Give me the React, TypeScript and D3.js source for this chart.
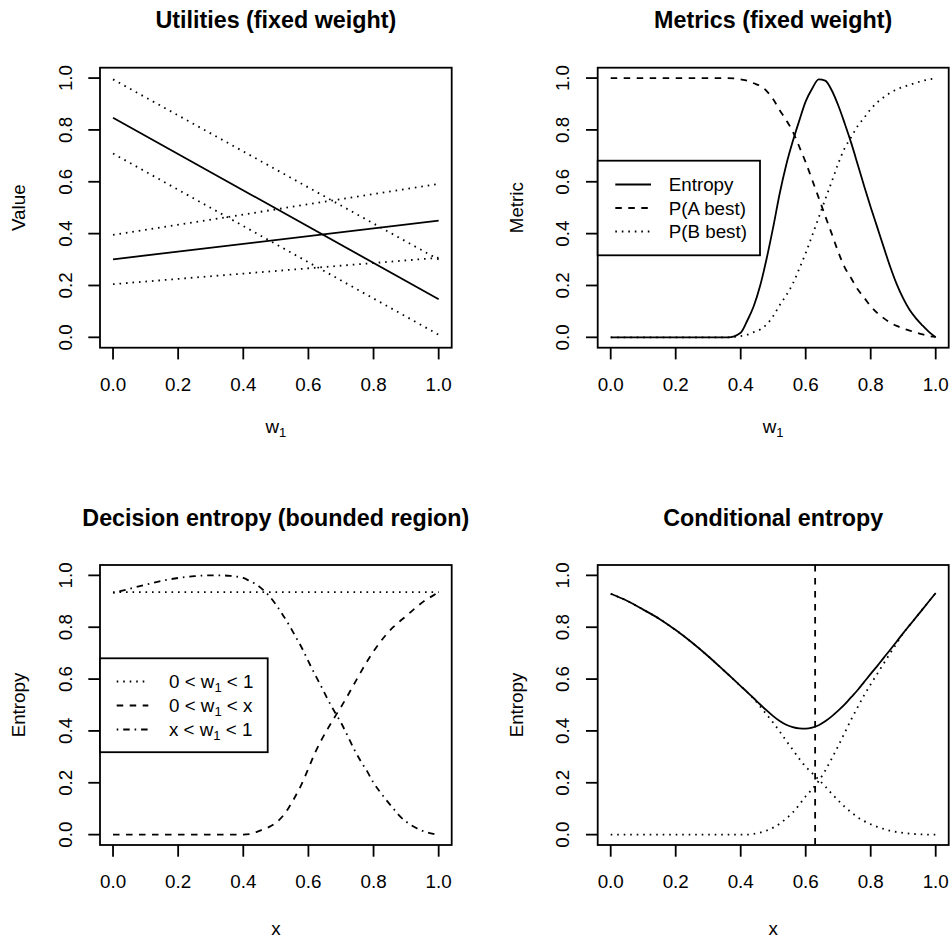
import React from "react";
import * as d3 from "d3";

// ---------- DATA ----------
const ticks = [0, 0.2, 0.4, 0.6, 0.8, 1.0];
const tickLabels = ["0.0", "0.2", "0.4", "0.6", "0.8", "1.0"];

// Panel 1: utilities (straight lines at w1 = 0 and 1)
const utilX = [0, 1];
const utilA = [0.847, 0.147];
const utilAUpper = [0.995, 0.3];
const utilALower = [0.709, 0.01];
const utilB = [0.301, 0.45];
const utilBUpper = [0.395, 0.592];
const utilBLower = [0.205, 0.307];

// Panel 2: metrics
const metricX = [0, 0.1, 0.2, 0.3, 0.36, 0.4, 0.42, 0.44, 0.46, 0.48, 0.5, 0.52, 0.54, 0.56, 0.58, 0.6, 0.62, 0.64, 0.66, 0.68, 0.7, 0.72, 0.74, 0.76, 0.78, 0.8, 0.82, 0.84, 0.86, 0.88, 0.9, 0.92, 0.94, 0.96, 0.98, 1.0];
const metricEntropy = [0, 0, 0, 0, 0, 0.018, 0.064, 0.12, 0.2, 0.305, 0.425, 0.555, 0.665, 0.755, 0.835, 0.91, 0.96, 0.995, 0.99, 0.953, 0.895, 0.825, 0.75, 0.667, 0.583, 0.502, 0.425, 0.348, 0.272, 0.205, 0.15, 0.105, 0.072, 0.045, 0.02, 0.0];
const metricPA = [1, 1, 1, 1, 1, 0.995, 0.99, 0.98, 0.97, 0.95, 0.918, 0.876, 0.838, 0.794, 0.736, 0.675, 0.607, 0.538, 0.468, 0.4, 0.33, 0.27, 0.228, 0.185, 0.153, 0.12, 0.094, 0.074, 0.057, 0.044, 0.034, 0.026, 0.018, 0.011, 0.005, 0.002];
const metricPB = [0, 0, 0, 0, 0, 0.005, 0.01, 0.02, 0.03, 0.05, 0.082, 0.124, 0.162, 0.206, 0.264, 0.325, 0.393, 0.462, 0.532, 0.6, 0.67, 0.73, 0.772, 0.815, 0.847, 0.88, 0.906, 0.926, 0.943, 0.956, 0.966, 0.974, 0.982, 0.989, 0.995, 0.998];

// Panel 3: decision entropy (bounded region)
const boundX = [0, 0.05, 0.1, 0.15, 0.2, 0.25, 0.3, 0.33, 0.36, 0.4, 0.42, 0.44, 0.46, 0.48, 0.5, 0.52, 0.54, 0.56, 0.58, 0.6, 0.62, 0.64, 0.66, 0.68, 0.7, 0.72, 0.74, 0.76, 0.78, 0.8, 0.82, 0.84, 0.86, 0.88, 0.9, 0.92, 0.94, 0.96, 0.98, 1.0];
const boundFull = boundX.map(() => 0.935);
const boundLower = [0, 0, 0, 0, 0, 0, 0, 0, 0, 0, 0.002, 0.01, 0.02, 0.03, 0.045, 0.07, 0.105, 0.148, 0.197, 0.255, 0.315, 0.365, 0.41, 0.452, 0.492, 0.535, 0.58, 0.625, 0.668, 0.707, 0.742, 0.773, 0.8, 0.822, 0.843, 0.865, 0.886, 0.905, 0.92, 0.935];
const boundUpper = [0.932, 0.948, 0.964, 0.979, 0.99, 0.997, 1.0, 1.0, 0.998, 0.99, 0.978, 0.965, 0.945, 0.92, 0.888, 0.85, 0.81, 0.765, 0.72, 0.668, 0.618, 0.57, 0.52, 0.475, 0.432, 0.382, 0.33, 0.285, 0.245, 0.2, 0.165, 0.132, 0.102, 0.072, 0.05, 0.033, 0.02, 0.01, 0.004, 0.0];

// Panel 4: conditional entropy
const condX = [0, 0.05, 0.1, 0.15, 0.2, 0.25, 0.3, 0.35, 0.4, 0.42, 0.44, 0.46, 0.48, 0.5, 0.52, 0.54, 0.56, 0.58, 0.6, 0.62, 0.64, 0.66, 0.68, 0.7, 0.72, 0.74, 0.76, 0.78, 0.8, 0.82, 0.84, 0.86, 0.88, 0.9, 0.92, 0.94, 0.96, 0.98, 1.0];
const condTotal = [0.929, 0.902, 0.868, 0.832, 0.789, 0.741, 0.688, 0.631, 0.573, 0.55, 0.526, 0.502, 0.479, 0.457, 0.438, 0.424, 0.415, 0.41, 0.409, 0.413, 0.422, 0.437, 0.456, 0.478, 0.502, 0.53, 0.558, 0.589, 0.62, 0.65, 0.682, 0.713, 0.745, 0.777, 0.808, 0.839, 0.87, 0.901, 0.932];
const condBelow = [0.929, 0.902, 0.868, 0.832, 0.789, 0.741, 0.688, 0.631, 0.573, 0.55, 0.524, 0.494, 0.463, 0.432, 0.398, 0.362, 0.328, 0.293, 0.262, 0.237, 0.212, 0.186, 0.158, 0.132, 0.107, 0.086, 0.067, 0.052, 0.04, 0.03, 0.022, 0.015, 0.01, 0.007, 0.004, 0.002, 0.001, 0, 0];
const condAbove = [0, 0, 0, 0, 0, 0, 0, 0, 0, 0, 0.003, 0.008, 0.016, 0.027, 0.042, 0.062, 0.085, 0.115, 0.148, 0.175, 0.207, 0.247, 0.293, 0.342, 0.393, 0.444, 0.492, 0.538, 0.58, 0.62, 0.66, 0.7, 0.738, 0.777, 0.808, 0.839, 0.87, 0.901, 0.932];
const condSplit = 0.629;

// ---------- STYLE ----------
const FONT = "'Liberation Sans', Arial, Helvetica, sans-serif";
const FS = 18.8;
const TFS = 23.3;
const LW = 1.8;
const DASH = "6.5 6.5";
const DOT = "1.6 4.9";
const DOTDASH = "1.6 4.9 6.5 4.9";

type Box = { L: number; R: number; T: number; B: number };

const top = { T: 67.7, B: 347.7 };
const bot = { T: 565, B: 845 };
const left = { L: 100, R: 451.7 };
const right = { L: 597.7, R: 948.7 };

function scales(b: Box) {
  const x = d3.scaleLinear().domain([-0.04, 1.04]).range([b.L, b.R]);
  const y = d3.scaleLinear().domain([-0.04, 1.04]).range([b.B, b.T]);
  return { x, y };
}

function Sub({ base, rest }: { base: string; rest: string }) {
  return (
    <>
      <tspan>{base}</tspan>
      <tspan fontSize={13} dy={4}>1</tspan>
      <tspan dy={-4}>{rest}</tspan>
    </>
  );
}

function Frame({ b, title, ylab, xlab, xlabY, id }: { b: Box; title: string; ylab: string; xlab: React.ReactNode; xlabY: number; id: string }) {
  const { x, y } = scales(b);
  const cx = (b.L + b.R) / 2;
  const cy = (b.T + b.B) / 2;
  return (
    <g>
      <defs>
        <clipPath id={id}>
          <rect x={b.L} y={b.T} width={b.R - b.L} height={b.B - b.T} />
        </clipPath>
      </defs>
      <rect x={b.L} y={b.T} width={b.R - b.L} height={b.B - b.T} fill="none" stroke="#000" strokeWidth={LW} />
      {ticks.map((t, i) => (
        <g key={"x" + i}>
          <line x1={x(t)} x2={x(t)} y1={b.B} y2={b.B + 11.7} stroke="#000" strokeWidth={LW} />
          <text x={x(t)} y={b.B + 43.3} textAnchor="middle" fontSize={FS}>{tickLabels[i]}</text>
        </g>
      ))}
      {ticks.map((t, i) => (
        <g key={"y" + i}>
          <line x1={b.L} x2={b.L - 11.7} y1={y(t)} y2={y(t)} stroke="#000" strokeWidth={LW} />
          <text transform={`translate(${b.L - 28.3},${y(t)}) rotate(-90)`} textAnchor="middle" fontSize={FS}>{tickLabels[i]}</text>
        </g>
      ))}
      <text x={cx} y={b.T - 39.4} textAnchor="middle" fontSize={TFS} fontWeight="bold">{title}</text>
      <text transform={`translate(${b.L - 75},${cy}) rotate(-90)`} textAnchor="middle" fontSize={FS}>{ylab}</text>
      <text x={cx} y={xlabY} textAnchor="middle" fontSize={FS}>{xlab}</text>
    </g>
  );
}

function Curve({ b, xs, ys, dash, clip, smooth = true }: { b: Box; xs: number[]; ys: number[]; dash?: string; clip: string; smooth?: boolean }) {
  const { x, y } = scales(b);
  const gen = d3
    .line<number>()
    .x((_, i) => x(xs[i]))
    .y((d) => y(d))
    .curve(smooth ? d3.curveMonotoneX : d3.curveLinear);
  return <path d={gen(ys) || ""} fill="none" stroke="#000" strokeWidth={LW} strokeDasharray={dash} clipPath={`url(#${clip})`} />;
}

export default function App() {
  const b1: Box = { ...left, ...top };
  const b2: Box = { ...right, ...top };
  const b3: Box = { ...left, ...bot };
  const b4: Box = { ...right, ...bot };
  const s4 = scales(b4);

  const leg2 = { x0: b2.L, x1: 760, y0: 160.7, y1: 255.3, rows: [184.5, 208, 231.5] };
  const leg3 = { x0: b3.L, x1: 267.7, y0: 658.3, y1: 752.2, rows: [681.5, 705.5, 729.5] };

  return (
    <svg width={952} height={939} style={{ position: "absolute", left: 0, top: 0, background: "#fff" }} fontFamily={FONT}>
      <rect x={0} y={0} width={952} height={939} fill="#fff" />

      {/* Panel 1 */}
      <Frame b={b1} id="c1" title="Utilities (fixed weight)" ylab="Value" xlab={<Sub base="w" rest="" />} xlabY={433.3} />
      <Curve b={b1} clip="c1" xs={utilX} ys={utilA} smooth={false} />
      <Curve b={b1} clip="c1" xs={utilX} ys={utilAUpper} dash={DOT} smooth={false} />
      <Curve b={b1} clip="c1" xs={utilX} ys={utilALower} dash={DOT} smooth={false} />
      <Curve b={b1} clip="c1" xs={utilX} ys={utilB} smooth={false} />
      <Curve b={b1} clip="c1" xs={utilX} ys={utilBUpper} dash={DOT} smooth={false} />
      <Curve b={b1} clip="c1" xs={utilX} ys={utilBLower} dash={DOT} smooth={false} />

      {/* Panel 2 */}
      <Frame b={b2} id="c2" title="Metrics (fixed weight)" ylab="Metric" xlab={<Sub base="w" rest="" />} xlabY={433.3} />
      <Curve b={b2} clip="c2" xs={metricX} ys={metricEntropy} />
      <Curve b={b2} clip="c2" xs={metricX} ys={metricPA} dash={DASH} />
      <Curve b={b2} clip="c2" xs={metricX} ys={metricPB} dash={DOT} />
      <g>
        <rect x={leg2.x0} y={leg2.y0} width={leg2.x1 - leg2.x0} height={leg2.y1 - leg2.y0} fill="#fff" stroke="#000" strokeWidth={LW} />
        {[undefined, DASH, DOT].map((d, i) => (
          <line key={i} x1={leg2.x0 + 17.6} x2={leg2.x0 + 53.3} y1={leg2.rows[i]} y2={leg2.rows[i]} stroke="#000" strokeWidth={LW} strokeDasharray={d} />
        ))}
        {["Entropy", "P(A best)", "P(B best)"].map((t, i) => (
          <text key={t} x={leg2.x0 + 71} y={leg2.rows[i] + 6.5} fontSize={FS}>{t}</text>
        ))}
      </g>

      {/* Panel 3 */}
      <Frame b={b3} id="c3" title="Decision entropy (bounded region)" ylab="Entropy" xlab="x" xlabY={935} />
      <Curve b={b3} clip="c3" xs={boundX} ys={boundFull} dash={DOT} smooth={false} />
      <Curve b={b3} clip="c3" xs={boundX} ys={boundLower} dash={DASH} />
      <Curve b={b3} clip="c3" xs={boundX} ys={boundUpper} dash={DOTDASH} />
      <g>
        <rect x={leg3.x0} y={leg3.y0} width={leg3.x1 - leg3.x0} height={leg3.y1 - leg3.y0} fill="#fff" stroke="#000" strokeWidth={LW} />
        {[DOT, DASH, DOTDASH].map((d, i) => (
          <line key={i} x1={leg3.x0 + 16.7} x2={leg3.x0 + 48.3} y1={leg3.rows[i]} y2={leg3.rows[i]} stroke="#000" strokeWidth={LW} strokeDasharray={d} />
        ))}
        <text x={leg3.x0 + 69} y={leg3.rows[0] + 6.5} fontSize={FS}><Sub base="0 < w" rest=" < 1" /></text>
        <text x={leg3.x0 + 69} y={leg3.rows[1] + 6.5} fontSize={FS}><Sub base="0 < w" rest=" < x" /></text>
        <text x={leg3.x0 + 69} y={leg3.rows[2] + 6.5} fontSize={FS}><Sub base="x < w" rest=" < 1" /></text>
      </g>

      {/* Panel 4 */}
      <Frame b={b4} id="c4" title="Conditional entropy" ylab="Entropy" xlab="x" xlabY={935} />
      <Curve b={b4} clip="c4" xs={condX} ys={condTotal} />
      <Curve b={b4} clip="c4" xs={condX} ys={condBelow} dash={DOT} />
      <Curve b={b4} clip="c4" xs={condX} ys={condAbove} dash={DOT} />
      <line x1={s4.x(condSplit)} x2={s4.x(condSplit)} y1={b4.T} y2={b4.B} stroke="#000" strokeWidth={LW} strokeDasharray={DASH} />
    </svg>
  );
}
